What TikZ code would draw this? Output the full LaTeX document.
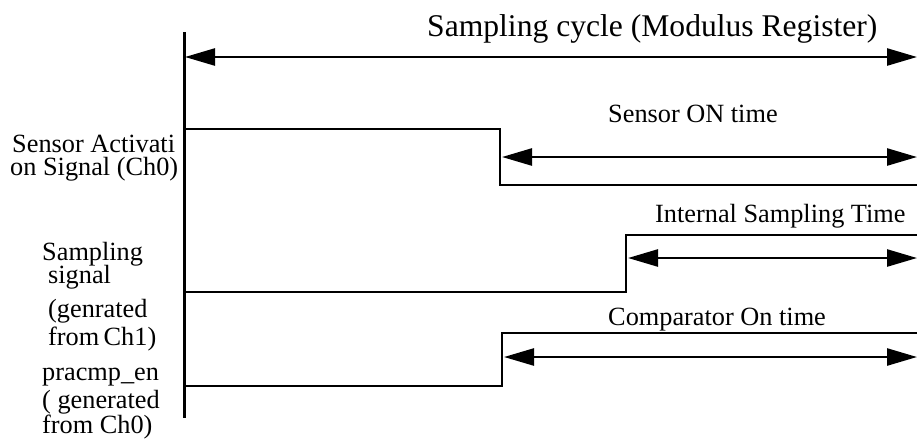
\documentclass[tikz,border=0pt]{standalone}
\usepackage{fontspec}
\setmainfont{Liberation Serif}
\usetikzlibrary{arrows.meta}
\newcommand{\stackset}{\baselineskip=23pt\lineskiplimit=-100pt\lineskip=0pt}
\begin{document}
\begin{tikzpicture}[x=1pt,y=-1pt,
  sig/.style={line width=2pt},
  axisline/.style={line width=3pt},
  dimarrow/.style={line width=2.5pt,{Triangle[length=30pt,width=17pt]}-{Triangle[length=30pt,width=17pt]}},
  lbl/.style={font=\fontsize{26.3}{23}\selectfont, inner sep=0pt},
  ttl/.style={font=\fontsize{31.6}{34}\selectfont, inner sep=0pt}]
\useasboundingbox (0,0) rectangle (917,440);
% axis
\coordinate (axT) at (184,32);
\coordinate (axB) at (184,418);
\draw[axisline] (axT) -- (axB);
% title and cycle arrow
\node[ttl, anchor=base west] (title) at (427,36) {Sampling cycle (Modulus Register)};
\coordinate (cycL) at (185,57);
\coordinate (cycR) at (917,57);
\draw[dimarrow] (cycL) -- (cycR);
% sensor activation signal
\coordinate (s0) at (184,129);
\coordinate (s1) at (500,129);
\coordinate (s2) at (500,185);
\coordinate (s3) at (917,185);
\draw[sig] (s0) -- (s1) -- (s2) -- (s3);
\coordinate (sonL) at (502,157);
\coordinate (sonR) at (917,157);
\draw[dimarrow] (sonL) -- (sonR);
\node[lbl, anchor=base west] (son) at (608,122) {Sensor ON time};
% sampling signal
\coordinate (p0) at (184,292);
\coordinate (p1) at (626,292);
\coordinate (p2) at (626,235);
\coordinate (p3) at (917,235);
\draw[sig] (p0) -- (p1) -- (p2) -- (p3);
\coordinate (istL) at (628,258);
\coordinate (istR) at (917,258);
\draw[dimarrow] (istL) -- (istR);
\node[lbl, anchor=base west] (ist) at (655,222) {Internal Sampling Time};
% comparator signal
\coordinate (c0) at (184,386);
\coordinate (c1) at (502,386);
\coordinate (c2) at (502,333);
\coordinate (c3) at (917,333);
\draw[sig] (c0) -- (c1) -- (c2) -- (c3);
\coordinate (cmpL) at (504,357);
\coordinate (cmpR) at (917,357);
\draw[dimarrow] (cmpL) -- (cmpR);
\node[lbl, anchor=base west] (cmp) at (608,325) {Comparator On time};
% left labels
\node[lbl, anchor=base west] (la) at (10,152)
  {\vtop{\stackset\hbox{\kern2pt Sensor Activati}\hbox{on Signal (Ch0)}}};
\node[lbl, anchor=base west] (lb) at (42,260)
  {\vtop{\stackset\hbox{Sampling}\hbox{\kern6pt signal}\vskip11pt
   \hbox{\kern6pt (genrated}\vskip5pt\hbox{\kern6pt from\,Ch1)}}};
\node[lbl, anchor=base west] (lc) at (42,380)
  {\vtop{\stackset\hbox{pracmp\_en}\vskip5pt\hbox{( generated}\vskip2pt\hbox{from Ch0)}}};
\end{tikzpicture}
\end{document}
